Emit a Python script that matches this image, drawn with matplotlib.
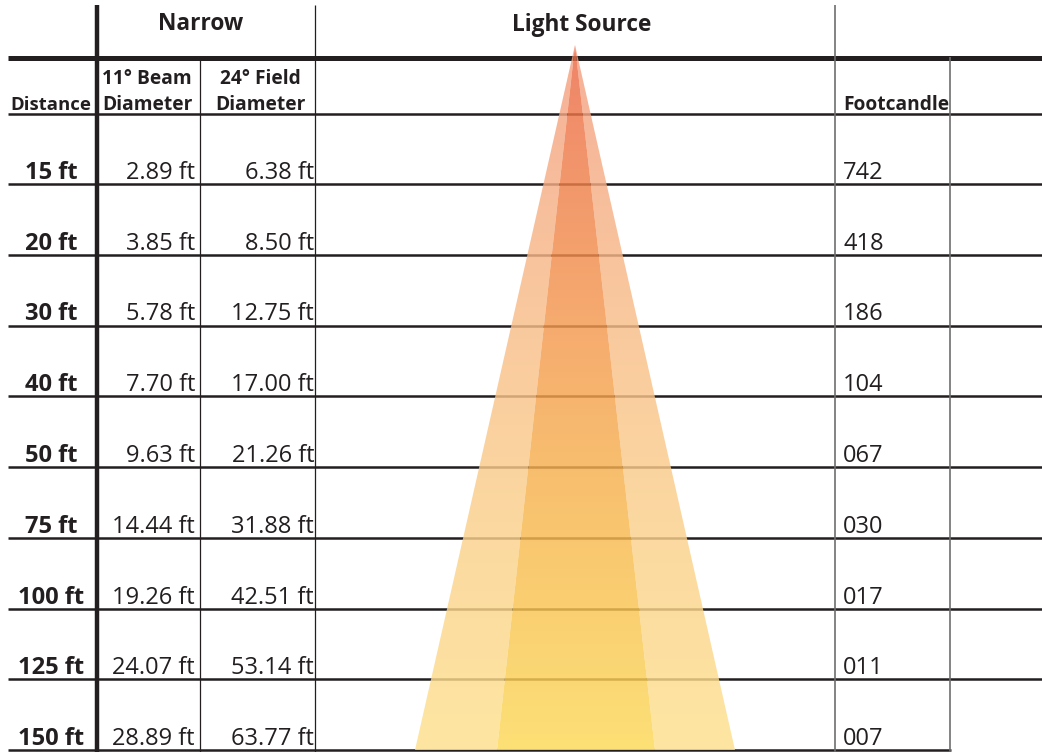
import numpy as np
import matplotlib.pyplot as plt
from matplotlib.colors import LinearSegmentedColormap, to_rgb
from matplotlib.patches import Polygon

plt.rcParams['font.family'] = ['Open Sans', 'DejaVu Sans']

# table values
distances = ['15 ft', '20 ft', '30 ft', '40 ft', '50 ft', '75 ft', '100 ft', '125 ft', '150 ft']
beam_diam = [2.89, 3.85, 5.78, 7.70, 9.63, 14.44, 19.26, 24.07, 28.89]
field_diam = [6.38, 8.50, 12.75, 17.00, 21.26, 31.88, 42.51, 53.14, 63.77]
footcandle = ['742', '418', '186', '104', '067', '030', '017', '011', '007']

INK = '#231f20'
GREY = '#6d6e71'

fig = plt.figure(figsize=(10.42, 7.52), dpi=100)
ax = fig.add_axes([0, 0, 1, 1])
ax.set_xlim(0, 1042)
ax.set_ylim(752, 0)
ax.axis('off')

# grid lines (pixel layout)
first_row = 184
row_h = (750 - first_row) / (len(distances) - 1)
row_lines = [first_row + i * row_h for i in range(len(distances))]

ax.plot([8, 1042], [57.5, 57.5], color=INK, lw=3.6, solid_capstyle='butt', zorder=2)
ax.plot([8, 1042], [114, 114], color=INK, lw=1.8, solid_capstyle='butt', zorder=2)
for y in row_lines[:-1]:
    ax.plot([8, 1042], [y, y], color=INK, lw=1.8, solid_capstyle='butt', zorder=2)
ax.plot([8, 951], [row_lines[-1], row_lines[-1]], color=INK, lw=1.8, solid_capstyle='butt', zorder=2)

ax.plot([97, 97], [5, 752], color=INK, lw=3.2, solid_capstyle='butt', zorder=2)
ax.plot([200, 200], [57, 752], color=INK, lw=0.9, solid_capstyle='butt', zorder=2)
ax.plot([315, 315], [5, 752], color=INK, lw=0.9, solid_capstyle='butt', zorder=2)
ax.plot([835, 835], [5, 752], color=GREY, lw=1.2, solid_capstyle='butt', zorder=2)
ax.plot([950, 950], [57, 752], color=GREY, lw=1.2, solid_capstyle='butt', zorder=2)

# light cone with vertical gradients, drawn semi transparent over lines
alpha = 0.82
apex = (575, 45)
bottom = 750


def gradient_cmap(name, colors):
    # colours given as they should look on white; undo the alpha blend
    adj = []
    for c in colors:
        r = np.array(to_rgb(c))
        adj.append(np.clip((r - (1 - alpha)) / alpha, 0, 1))
    return LinearSegmentedColormap.from_list(name, adj)


inner_cmap = gradient_cmap('inner', ['#ef8468', '#f5a56e', '#f9c46e', '#fde076'])
outer_cmap = gradient_cmap('outer', ['#f6b098', '#f9c69e', '#fcd8a0', '#fee6a1'])

grad = np.linspace(0, 1, 256).reshape(-1, 1)

cone_parts = [
    ([apex, (415, bottom), (497, bottom)], outer_cmap),
    ([apex, (655, bottom), (735, bottom)], outer_cmap),
    ([apex, (497, bottom), (655, bottom)], inner_cmap),
]
for pts, cmap in cone_parts:
    poly = Polygon(pts, closed=True, facecolor='none', edgecolor='none')
    ax.add_patch(poly)
    im = ax.imshow(grad, cmap=cmap, aspect='auto', extent=(400, 750, bottom, apex[1]),
                   alpha=alpha, zorder=3, interpolation='bilinear')
    im.set_clip_path(poly)

ax.set_xlim(0, 1042)
ax.set_ylim(752, 0)

# headers
ax.text(201, 30, 'Narrow', ha='center', va='baseline', fontsize=16.3, fontweight='bold', color=INK)
ax.text(582, 31, 'Light Source', ha='center', va='baseline', fontsize=16.3, fontweight='bold', color=INK)
ax.text(10, 110, 'Distance', ha='left', va='baseline', fontsize=13.3, fontweight='bold', color=INK)
ax.text(147, 84, '11° Beam', ha='center', va='baseline', fontsize=13.8, fontweight='bold', color=INK)
ax.text(147, 110, 'Diameter', ha='center', va='baseline', fontsize=13.8, fontweight='bold', color=INK)
ax.text(260, 84, '24° Field', ha='center', va='baseline', fontsize=13.8, fontweight='bold', color=INK)
ax.text(260, 110, 'Diameter', ha='center', va='baseline', fontsize=13.8, fontweight='bold', color=INK)
ax.text(843, 110, 'Footcandle', ha='left', va='baseline', fontsize=13.8, fontweight='bold', color=INK)

# rows
for i, y in enumerate(row_lines):
    base = y - 5
    ax.text(51, base, distances[i], ha='center', va='baseline', fontsize=17,
            fontweight='bold', color=INK)
    ax.text(195, base, f'{beam_diam[i]:.2f} ft', ha='right', va='baseline', fontsize=17, color=INK)
    ax.text(314, base, f'{field_diam[i]:.2f} ft', ha='right', va='baseline', fontsize=17, color=INK)
    ax.text(843, base, footcandle[i], ha='left', va='baseline', fontsize=17, color=INK)

fig.savefig('out.png', dpi=100)
